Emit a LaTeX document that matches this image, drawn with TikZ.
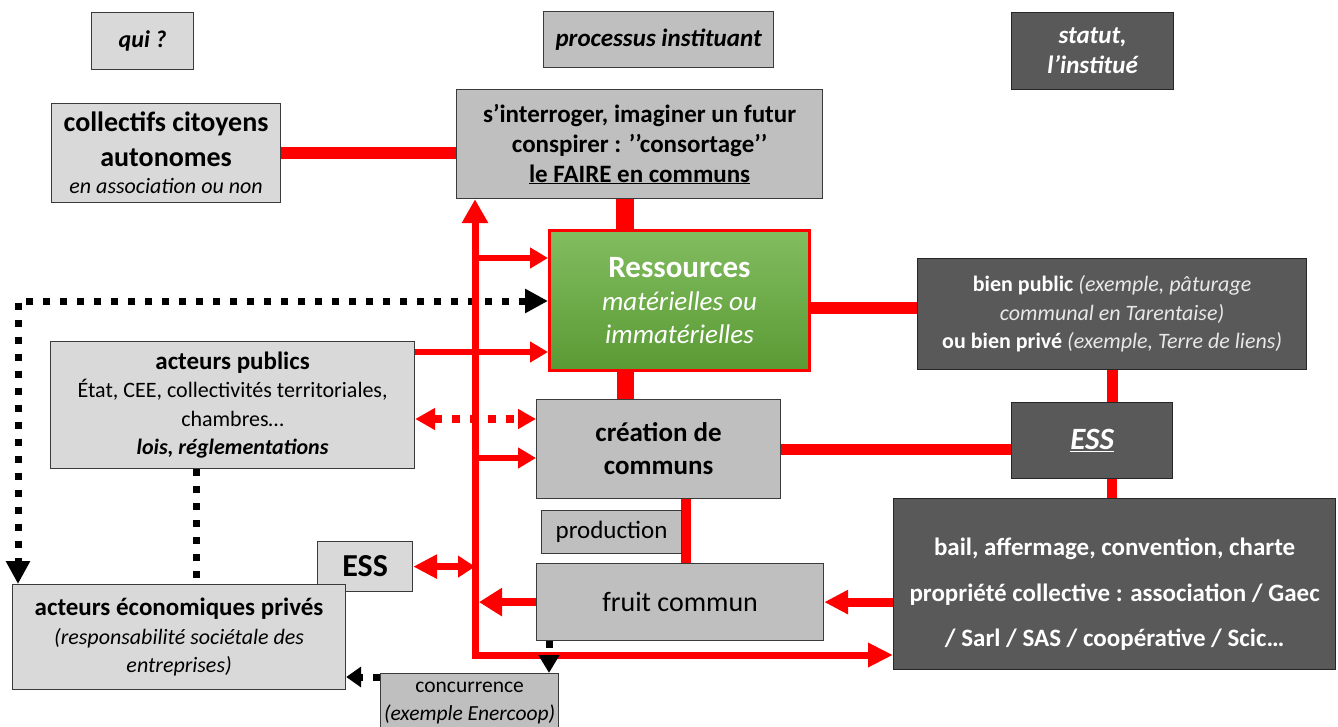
\documentclass[tikz,border=0pt]{standalone}
\usepackage{fontspec}
\setmainfont{Carlito}
\usetikzlibrary{arrows.meta,calc}
\pgfdeclarelayer{bg}
\pgfsetlayers{bg,main}
\definecolor{lg}{HTML}{D9D9D9}
\definecolor{mg}{HTML}{BFBFBF}
\definecolor{dg}{HTML}{595959}
\definecolor{bd}{HTML}{3A3A3A}
\definecolor{dbd}{HTML}{262626}
\definecolor{rr}{HTML}{FF0000}
\definecolor{gtop}{HTML}{82BD60}
\definecolor{gbot}{HTML}{5A9A34}
\definecolor{ltxt}{HTML}{E8E8E8}
\newcommand\fsz[2]{\fontsize{#1}{#2}\selectfont}
\begin{document}
\begin{tikzpicture}[x=1pt,y=-1pt,
  box/.style={draw=bd,line width=1.2pt,inner sep=0pt,align=center,anchor=north west,text=black},
  lbox/.style={box,fill=lg},
  mbox/.style={box,fill=mg},
  dbox/.style={box,fill=dg,draw=dbd,text=white},
  rline/.style={draw=rr,line width=#1},
  rarr/.style={draw=rr,line width=6pt,-{Triangle[length=18pt,width=20pt]}},
  bdot/.style={draw=black,line width=7pt,dash pattern=on 7pt off 10pt},
  rdot/.style={draw=rr,line width=8pt,dash pattern=on 8pt off 10pt}]
\clip (0,0) rectangle (1338,727);
% header boxes
\node[lbox,minimum width=102pt,minimum height=57pt,font=\fsz{24}{29}\bfseries\itshape] (qui) at (91,12) {qui ?};
\node[mbox,minimum width=230pt,minimum height=56pt,font=\fsz{25}{30}\bfseries\itshape] (proc) at (543,11) {processus instituant};
\node[dbox,minimum width=162pt,minimum height=77pt,font=\fsz{25}{30}\bfseries\itshape] (statut) at (1011,12) {statut,\\ l’institué};
% main boxes
\node[lbox,minimum width=229pt,minimum height=99pt,font=\fsz{28}{35}\bfseries] (coll) at (51,103)
  {collectifs citoyens\\ autonomes\\[-8pt] \fsz{22}{27}\mdseries\itshape en association ou non};
\node[mbox,minimum width=366pt,minimum height=109pt,font=\fsz{25}{30}\bfseries] (interr) at (456,89)
  {s’interroger, imaginer un futur\\ conspirer : ’’consortage’’\\ \underline{le FAIRE en communs}};
\node[box,draw=rr,line width=3pt,top color=gtop,bottom color=gbot,text=white,minimum width=260pt,minimum height=140pt,font=\fsz{27}{33}] (ress) at (548,229)
  {\fsz{31}{34}\bfseries Ressources\\ \itshape matérielles ou\\ \itshape immatérielles};
\node[dbox,minimum width=389pt,minimum height=111pt,font=\fsz{22}{28.5}] (bien) at (917,258)
  {\textbf{bien public} {\color{ltxt}\itshape (exemple, pâturage}\\ {\color{ltxt}\itshape communal en Tarentaise)}\\ \textbf{ou bien privé} {\color{ltxt}\itshape (exemple, Terre de liens)}};
\node[lbox,minimum width=364pt,minimum height=127pt,font=\fsz{22}{28.5}] (apub) at (50,341)
  {\fsz{25}{29}\bfseries acteurs publics\\ État, CEE, collectivités territoriales,\\ chambres…\\ \bfseries\itshape lois, réglementations};
\node[mbox,minimum width=244pt,minimum height=99pt,font=\fsz{27}{33}\bfseries] (creat) at (536,399)
  {création de\\ communs};
\node[dbox,minimum width=161pt,minimum height=76pt,font=\fsz{31}{34}\bfseries\itshape] (essr) at (1011,402) {\underline{ESS}};
\node[mbox,minimum width=140pt,minimum height=43pt,font=\fsz{25}{30}] (prod) at (541,510) {production};
\node[mbox,minimum width=287pt,minimum height=77pt,font=\fsz{28}{33}] (fruit) at (536,563) {fruit commun};
\node[dbox,minimum width=442pt,minimum height=171pt,font=\fsz{25}{45.5}\bfseries] (bail) at (893,498)
  {\rule{0pt}{0pt}\\[-7pt] bail, affermage, convention, charte\\ propriété collective : association / Gaec\\ / Sarl / SAS / coopérative / Scic…};
\node[lbox,minimum width=95pt,minimum height=50pt,font=\fsz{32}{36}\bfseries] (essl) at (317,541) {ESS};
\node[lbox,minimum width=333pt,minimum height=105pt,font=\fsz{22}{28.5}] (aeco) at (12,584)
  {\fsz{25}{29}\bfseries acteurs économiques privés\\ \itshape (responsabilité sociétale des\\ \itshape entreprises)};
\node[mbox,minimum width=178pt,minimum height=58pt,font=\fsz{21.5}{28}] (conc) at (380,673)
  {concurrence\\ \itshape (exemple Enercoop)};
% connectors
\coordinate (corner) at (475,655);
\coordinate (cx) at (625,0);
\coordinate (fx) at (686,0);
\coordinate (ax) at (196,0);
\coordinate (kx) at (549,0);
\coordinate (dl) at (18,0);
\coordinate (p1) at ($(ress.north west)+(0,29)$);
\coordinate (p2) at ($(ress.north west)+(0,123)$);
\coordinate (p3) at ($(ress.north west)+(0,72)$);
\coordinate (c1) at ($(creat.north west)+(0,20)$);
\coordinate (c2) at ($(creat.north west)+(0,59)$);
\coordinate (b1) at ($(bien.north west)+(0,50)$);
\coordinate (k2) at (380,677);
\coordinate (fw) at (fruit.west -| corner);
\begin{pgfonlayer}{bg}
\draw[rline=12pt] (coll.east) -- (coll.east -| interr.west);
\draw[rline=18pt] (interr.south -| cx) -- (ress.north -| cx);
\draw[rline=17pt] (ress.south -| cx) -- (creat.north -| cx);
\draw[rline=12pt] (b1 -| ress.east) -- (b1);
\draw[rline=11pt] (bien.south) -- (bien.south |- essr.north);
\draw[rline=10pt] (bien.south |- essr.south) -- (bien.south |- bail.north);
\draw[rline=11pt] (creat.east) -- (creat.east -| essr.west);
\draw[rline=10pt] (creat.south -| fx) -- (fruit.north -| fx);
\draw[bdot,{Triangle[length=23pt,width=23pt]}-{Triangle[length=23pt,width=23pt]}] (p3) -- (p3 -| dl) -- (dl |- aeco.north);
\draw[bdot] (apub.south -| ax) -- (aeco.north -| ax);
\draw[draw=rr,line width=7pt,{Triangle[length=24pt,width=25pt]}-{Triangle[length=25pt,width=23pt]}] (corner |- interr.south) -- (corner) -- (corner -| bail.west);
\draw[rarr] (p1 -| corner) -- (p1);
\draw[rarr] (p2 -| apub.east) -- (p2);
\draw[rarr] (c2 -| corner) -- (c2);
\draw[rdot,{Triangle[length=20pt,width=21pt]}-{Triangle[length=18pt,width=19pt]}] (c1 -| apub.east) -- (c1);
\draw[draw=rr,line width=7pt,{Triangle[length=24pt,width=23pt]}-{Triangle[length=17pt,width=21pt]}] (essl.east) -- (essl.east -| corner);
\draw[draw=rr,line width=8pt,-{Triangle[length=23pt,width=27pt]}] (fruit.west) -- ($(fw)+(4,0)$);
\draw[draw=rr,line width=9pt,-{Triangle[length=24pt,width=23pt]}] (fruit.east -| bail.west) -- (fruit.east);
\draw[bdot,-{Triangle[length=18pt,width=20pt]}] (fruit.south -| kx) -- (conc.north -| kx);
\draw[bdot,-{Triangle[length=15pt,width=20pt]}] (k2) -- (k2 -| aeco.east);
\end{pgfonlayer}
\end{tikzpicture}
\end{document}
